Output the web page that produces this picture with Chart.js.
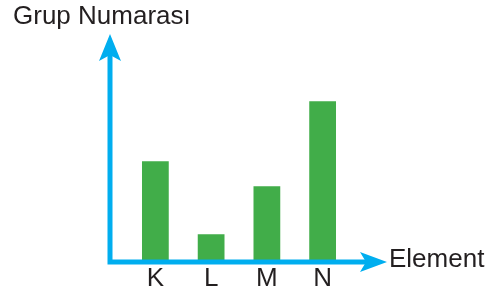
<!DOCTYPE html>
<html>
<head>
<meta charset="utf-8">
<script src="https://cdn.jsdelivr.net/npm/chart.js@4/dist/chart.umd.min.js"></script>
<style>
  html, body { margin: 0; padding: 0; background: #fff; }
  #wrap { width: 502px; height: 300px; position: relative; }
</style>
</head>
<body>
<div id="wrap"><canvas id="myChart" width="502" height="300"></canvas></div>
<script>
const elements = ['K', 'L', 'M', 'N'];
const groupNumbers = [4, 1.07, 3, 6.4];
const yTitle = 'Grup Numarası';
const xTitle = 'Element';

const blue = '#00aeef';
const green = '#41ad49';
const ink = '#231f20';
const font = '"Liberation Sans", Arial, sans-serif';

// axis lines with arrow heads + the two axis titles
const arrowAxes = {
    id: 'arrowAxes',
    afterDatasetsDraw(chart) {
        const ctx = chart.ctx;
        const x0 = 110, y0 = 262;
        ctx.save();
        ctx.strokeStyle = blue;
        ctx.fillStyle = blue;
        ctx.lineWidth = 5;
        ctx.beginPath();
        ctx.moveTo(x0, 48);
        ctx.lineTo(x0, y0);
        ctx.lineTo(374, y0);
        ctx.stroke();

        // up arrow
        ctx.beginPath();
        ctx.moveTo(x0, 34);
        ctx.lineTo(x0 + 11, 61);
        ctx.lineTo(x0, 55);
        ctx.lineTo(x0 - 11, 61);
        ctx.closePath();
        ctx.fill();

        // right arrow
        ctx.beginPath();
        ctx.moveTo(387, y0);
        ctx.lineTo(360, y0 - 10);
        ctx.lineTo(366, y0);
        ctx.lineTo(360, y0 + 10);
        ctx.closePath();
        ctx.fill();

        ctx.fillStyle = ink;
        ctx.font = '26px ' + font;
        ctx.textBaseline = 'alphabetic';
        ctx.textAlign = 'left';
        ctx.fillText(yTitle, 13, 24);
        ctx.fillText(xTitle, 389, 267);
        ctx.restore();
    }
};

const ctx = document.getElementById('myChart').getContext('2d');
const myChart = new Chart(ctx, {
    type: 'bar',
    data: {
        labels: elements,
        datasets: [{
            data: groupNumbers,
            backgroundColor: green,
            borderWidth: 0,
            barPercentage: 0.96,
            categoryPercentage: 0.5
        }]
    },
    options: {
        responsive: false,
        animation: false,
        layout: {
            padding: { left: 127.5, right: 151.5, top: 61.4, bottom: 3.8 }
        },
        plugins: {
            legend: { display: false },
            tooltip: { enabled: false }
        },
        scales: {
            x: {
                grid: { display: false, drawTicks: false },
                border: { display: false },
                ticks: {
                    color: ink,
                    padding: 2,
                    font: { family: font, size: 26 }
                }
            },
            y: {
                display: false,
                min: 0,
                max: 8
            }
        }
    },
    plugins: [arrowAxes]
});
</script>
</body>
</html>
